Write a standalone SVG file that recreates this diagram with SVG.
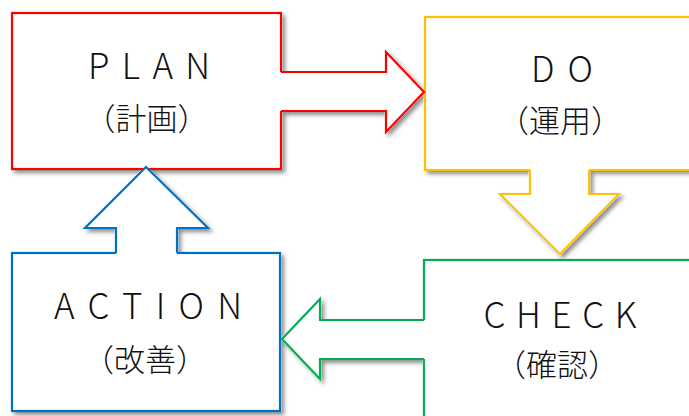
<svg xmlns="http://www.w3.org/2000/svg" width="689" height="416" viewBox="0 0 689 416">
  <defs>
    <filter id="shadow" x="-10%" y="-10%" width="130%" height="130%">
      <feDropShadow dx="3" dy="3" stdDeviation="2" flood-color="#000" flood-opacity="0.45"/>
    </filter>
    <style>
      .box { fill: #fff; stroke-width: 2.2; }
      .fillonly { fill: #fff; stroke: none; }
      .edge { fill: none; stroke-width: 2.2; stroke-linejoin: miter; }
      .shadowshape { fill: #fff; stroke: #fff; stroke-width: 2.2; }
      .red { stroke: #ff0000; }
      .yellow { stroke: #ffc000; }
      .green { stroke: #00b050; }
      .blue { stroke: #0070c0; }
      .t1 { font-family: "Noto Sans CJK JP", "Noto Sans", sans-serif; font-size: 35px; font-weight: 300; fill: #111; text-anchor: middle; }
      .t2 { font-family: "Noto Sans CJK JP", sans-serif; font-size: 31px; font-weight: 300; fill: #111; text-anchor: middle; }
    </style>
  </defs>

  <!-- soft drop shadows of the combined outlines -->
  <g id="shadows" filter="url(#shadow)">
    <polygon class="shadowshape" points="12,13 281,13 281,72 386,72 386,52 424,92 386,132 386,111 281,111 281,169 12,169"/>
    <polygon class="shadowshape" points="425,17 700,17 700,170 589,170 589,194 619,194 560,254 500,194 530,194 530,170 425,170"/>
    <polygon class="shadowshape" points="424,260 700,260 700,430 424,430 424,359 320,359 320,379 282,339 320,299 320,320 424,320"/>
    <polygon class="shadowshape" points="12,253 116,253 116,228 85,228 146,167 208,228 177,228 177,253 280,253 280,411 12,411"/>
  </g>

  <g id="nodes">
    <g id="plan">
      <rect class="box red" x="12" y="13" width="269" height="156"/>
      <text class="t1" x="149" y="79" textLength="122" lengthAdjust="spacing">PLAN</text>
      <text class="t2" x="146.5" y="130">（計画）</text>
    </g>
    <g id="do">
      <rect class="box yellow" x="425" y="17" width="270" height="153"/>
      <text class="t1" x="562" y="82" textLength="62" lengthAdjust="spacing">DO</text>
      <text class="t2" x="560" y="132">（運用）</text>
    </g>
    <g id="check">
      <rect class="box green" x="424" y="260" width="271" height="170"/>
      <text class="t1" x="560" y="328" textLength="153" lengthAdjust="spacing">CHECK</text>
      <text class="t2" x="557" y="376">（確認）</text>
    </g>
    <g id="action">
      <rect class="box blue" x="12" y="253" width="268" height="158"/>
      <text class="t1" x="148" y="319" textLength="188" lengthAdjust="spacing">ACTION</text>
      <text class="t2" x="145" y="371">（改善）</text>
    </g>
  </g>

  <g id="connectors">
    <g id="plan-to-do">
      <polygon class="fillonly" points="278,72 386,72 386,52 424,92 386,132 386,111 278,111"/>
      <path class="edge red" d="M281,72 H386 V52 L424,92 L386,132 V111 H281"/>
    </g>
    <g id="do-to-check">
      <polygon class="fillonly" points="530,167 589,167 589,194 619,194 560,254 500,194 530,194"/>
      <path class="edge yellow" d="M530,170 V194 H500 L560,254 L619,194 H589 V170"/>
    </g>
    <g id="check-to-action">
      <polygon class="fillonly" points="427,320 320,320 320,299 282,339 320,379 320,359 427,359"/>
      <path class="edge green" d="M424,320 H320 V299 L282,339 L320,379 V359 H424"/>
    </g>
    <g id="action-to-plan">
      <polygon class="fillonly" points="116,256 116,228 85,228 146,167 208,228 177,228 177,256"/>
      <path class="edge blue" d="M116,253 V228 H85 L146,167 L208,228 H177 V253"/>
    </g>
  </g>
</svg>
